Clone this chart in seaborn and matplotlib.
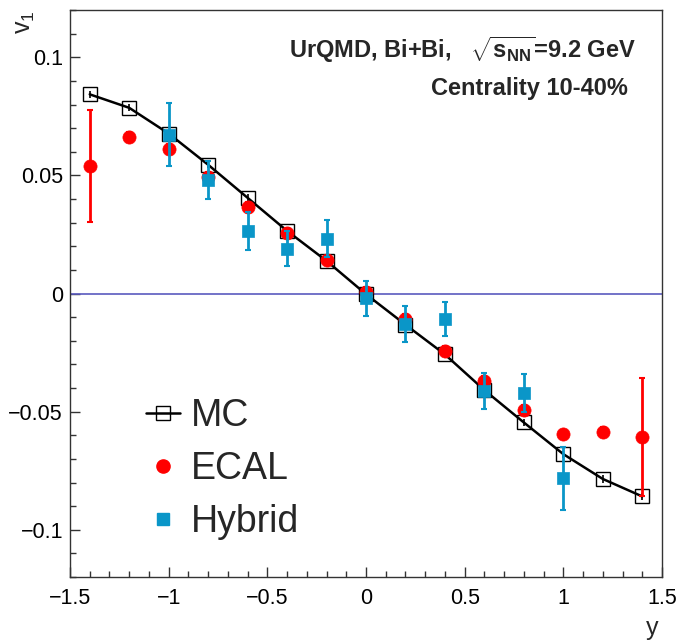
import numpy as np
import pandas as pd
import matplotlib
matplotlib.use("Agg")
import matplotlib.pyplot as plt
from matplotlib.lines import Line2D
from matplotlib.ticker import MultipleLocator, FixedLocator
import seaborn as sns

# ---- data ----
y_mc = [-1.4, -1.2, -1.0, -0.8, -0.6, -0.4, -0.2, 0.0, 0.2, 0.4, 0.6, 0.8, 1.0, 1.2, 1.4]
v1_mc = [0.0843, 0.0786, 0.0677, 0.0545, 0.0405, 0.0265, 0.0138, -0.0003, -0.0132,
         -0.0258, -0.0409, -0.0546, -0.0680, -0.0785, -0.0859]
err_mc = [0.0015] * 15

y_ecal = [-1.4, -1.2, -1.0, -0.8, -0.6, -0.4, -0.2, 0.0, 0.2, 0.4, 0.6, 0.8, 1.0, 1.2, 1.4]
v1_ecal = [0.0538, 0.0662, 0.0613, 0.0494, 0.0366, 0.0258, 0.0140, 0.0007, -0.0106,
           -0.0244, -0.0370, -0.0493, -0.0596, -0.0587, -0.0609]
err_ecal = [0.0237, 0.002, 0.002, 0.002, 0.002, 0.002, 0.002, 0.002, 0.002,
            0.002, 0.002, 0.002, 0.002, 0.002, 0.0250]

y_hyb = [-1.0, -0.8, -0.6, -0.4, -0.2, 0.0, 0.2, 0.4, 0.6, 0.8, 1.0]
v1_hyb = [0.0672, 0.0479, 0.0263, 0.0190, 0.0232, -0.0021, -0.0130, -0.0108,
          -0.0413, -0.0420, -0.0782]
err_hyb = [0.0134, 0.0080, 0.0080, 0.0075, 0.0077, 0.0075, 0.0077, 0.0074,
           0.0075, 0.0080, 0.0133]

x_ticks = [-1.5, -1, -0.5, 0, 0.5, 1, 1.5]
x_ticklabels = ["\u22121.5", "\u22121", "\u22120.5", "0", "0.5", "1", "1.5"]
y_ticks = [-0.1, -0.05, 0, 0.05, 0.1]
y_ticklabels = ["\u22120.1", "\u22120.05", "0", "0.05", "0.1"]

RED = "#ff0000"
BLUE = "#0a96c8"

sns.set_style("ticks")
plt.rcParams['font.family'] = ['Liberation Sans', 'DejaVu Sans']
plt.rcParams['mathtext.fontset'] = 'custom'
plt.rcParams['mathtext.rm'] = 'Liberation Sans'
plt.rcParams['mathtext.bf'] = 'Liberation Sans:bold'
plt.rcParams['mathtext.it'] = 'Liberation Sans:italic'

fig = plt.figure(figsize=(6.79, 6.42), dpi=100)
ax = fig.add_axes([70 / 679, 1 - 577 / 642, (662 - 70) / 679, (577 - 10) / 642])

df_mc = pd.DataFrame({"y": y_mc, "v1": v1_mc})
df_ecal = pd.DataFrame({"y": y_ecal, "v1": v1_ecal})
df_hyb = pd.DataFrame({"y": y_hyb, "v1": v1_hyb})

ax.axhline(0, color="#5a5abf", lw=1.2, zorder=1)

# MC
ax.errorbar(y_mc, v1_mc, yerr=err_mc, fmt="none", ecolor="black", elinewidth=1.2, zorder=2)
sns.lineplot(data=df_mc, x="y", y="v1", ax=ax, color="black", lw=1.8, marker="s",
             markersize=10, markerfacecolor="none", markeredgecolor="black",
             markeredgewidth=1.0, zorder=3, sort=False)

# ECAL
ax.errorbar(y_ecal, v1_ecal, yerr=err_ecal, fmt="none", ecolor=RED, elinewidth=2.0,
            capsize=2.5, capthick=1.5, zorder=4)
sns.scatterplot(data=df_ecal, x="y", y="v1", ax=ax, color=RED, marker="o", s=90,
                edgecolor=RED, linewidth=0.5, zorder=5)

# Hybrid
ax.errorbar(y_hyb, v1_hyb, yerr=err_hyb, fmt="none", ecolor=BLUE, elinewidth=2.0,
            capsize=2.5, capthick=1.5, zorder=6)
sns.scatterplot(data=df_hyb, x="y", y="v1", ax=ax, color=BLUE, marker="s", s=85,
                edgecolor=BLUE, linewidth=0.5, zorder=7)

ax.set_xlim(-1.5, 1.5)
ax.set_ylim(-0.12, 0.12)
ax.xaxis.set_major_locator(FixedLocator(x_ticks))
ax.set_xticklabels(x_ticklabels)
ax.xaxis.set_minor_locator(MultipleLocator(0.1))
ax.yaxis.set_major_locator(FixedLocator(y_ticks))
ax.set_yticklabels(y_ticklabels)
ax.yaxis.set_minor_locator(MultipleLocator(0.01))
ax.tick_params(which="both", direction="in", top=False, right=False, width=1.0,
               color="#333333", labelsize=15.5, labelcolor="black")
ax.tick_params(which="major", length=7)
ax.tick_params(axis="x", which="major", pad=8)
ax.tick_params(axis="y", which="major", pad=5)
ax.tick_params(which="minor", length=4.5)
for s in ax.spines.values():
    s.set_visible(True)
    s.set_linewidth(1.0)
    s.set_color("#333333")

ax.set_xlabel("")
ax.set_ylabel("")
fig.text(652 / 679, 1 - 628 / 642, "y", fontsize=18, ha="center", va="center")
fig.text(25 / 679, 1 - 10 / 642, r"v$_1$", fontsize=18, rotation=90, ha="center", va="top")

fig.text(636 / 679, 1 - 50 / 642, r"UrQMD, Bi+Bi,   $\mathbf{\sqrt{s_{NN}}}$=9.2 GeV",
         fontsize=17, fontweight="bold", ha="right", va="center")
fig.text(628 / 679, 1 - 88 / 642, "Centrality 10-40%",
         fontsize=17, fontweight="bold", ha="right", va="center")

handles = [
    Line2D([0], [0], color="black", lw=1.8, marker="s", markersize=10,
           markerfacecolor="none", markeredgecolor="black", markeredgewidth=1.0),
    Line2D([0], [0], color=RED, lw=0, marker="o", markersize=9.5),
    Line2D([0], [0], color=BLUE, lw=0, marker="s", markersize=9),
]
leg = ax.legend(handles, ["MC", "ECAL", "Hybrid"], loc="upper left",
                bbox_to_anchor=((131 - 70) / 592, (577 - 383) / 567), frameon=False,
                fontsize=27, handlelength=0.9, handletextpad=0.3, labelspacing=0.46,
                borderaxespad=0)

fig.savefig("out.png", dpi=100)
